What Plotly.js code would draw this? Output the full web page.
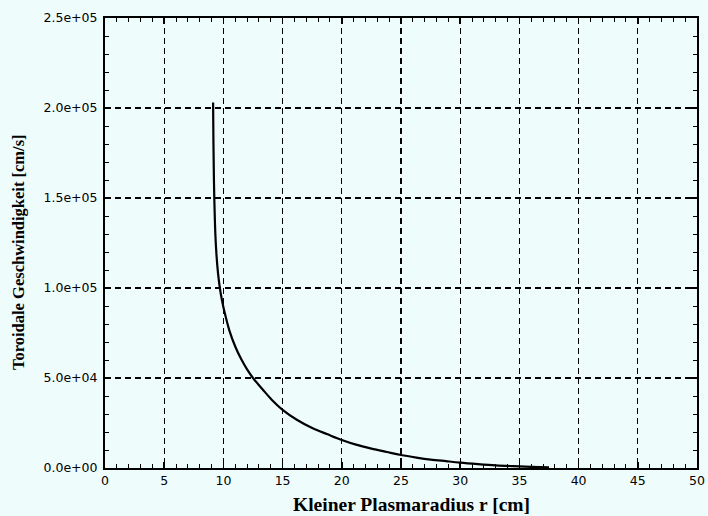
<!DOCTYPE html>
<html>
<head>
<meta charset="utf-8">
<script src="https://cdn.plot.ly/plotly-3.0.1.min.js"></script>
<style>html,body{margin:0;padding:0;background:#effcfc;}</style>
</head>
<body>
<div id="chart" style="width:708px;height:516px;"></div>
<script>
const radius = [9.13, 9.16, 9.2, 9.25, 9.32, 9.42, 9.55, 9.7, 9.9, 10.1, 10.5, 11.0, 11.5, 12.0, 12.5, 13.3, 14.1, 15.0, 16.2, 17.5, 18.8, 20.0, 21.2, 22.5, 23.8, 25.0, 26.3, 27.5, 28.8, 30.0, 31.5, 33.0, 34.5, 36.0, 37.5];
const velocity = [203000, 180000, 160000, 145000, 130000, 118000, 108000, 100000, 92500, 86500, 76500, 67500, 60500, 54800, 50000, 43800, 37800, 32300, 26800, 22200, 18700, 15600, 13000, 10800, 8900, 7200, 5800, 4700, 3800, 3000, 2200, 1500, 1000, 600, 300];
const xTicks = [0, 5, 10, 15, 20, 25, 30, 35, 40, 45, 50];
const yTickVals = [0, 50000, 100000, 150000, 200000, 250000];
const yTickText = ["0.0e+00", "5.0e+04", "1.0e+05", "1.5e+05", "2.0e+05", "2.5e+05"];
const xTitle = 'Kleiner Plasmaradius r [cm]';
const yTitle = 'Toroidale Geschwindigkeit [cm/s]';

const bg = '#effcfc';
const tickFont = {family: 'DejaVu Sans, sans-serif', size: 12.5, color: '#000'};
const titleFontFamily = 'Liberation Serif, Times New Roman, serif';
const trace = {
  x: radius, y: velocity, type: 'scatter', mode: 'lines',
  line: {color: '#000', width: 2.2, shape: 'spline', smoothing: 1},
  hoverinfo: 'skip', showlegend: false
};
const axisCommon = {
  ticks: 'inside', ticklen: 6, tickwidth: 1.5, tickcolor: '#000',
  showline: true, linecolor: '#000', linewidth: 2, mirror: 'ticks',
  showgrid: true, gridcolor: '#000', gridwidth: 1.3, griddash: '6px,4px',
  zeroline: false, tickfont: tickFont
};
const layout = {
  width: 708, height: 516,
  paper_bgcolor: bg, plot_bgcolor: bg,
  margin: {l: 105, r: 11, t: 18, b: 48},
  font: {family: 'DejaVu Sans, sans-serif', size: 12, color: '#000'},
  xaxis: Object.assign({}, axisCommon, {
    range: [0, 50], tickvals: xTicks, ticktext: xTicks.map(String),
    minor: {dtick: 1, tick0: 0, ticks: 'inside', ticklen: 4, tickwidth: 1, tickcolor: '#000', showgrid: false}
  }),
  yaxis: Object.assign({}, axisCommon, {
    range: [0, 250000], tickvals: yTickVals, ticktext: yTickText, ticklabelstandoff: 3,
    minor: {dtick: 10000, tick0: 0, ticks: 'inside', ticklen: 4, tickwidth: 1, tickcolor: '#000', showgrid: false}
  }),
  annotations: [
    {text: xTitle, xref: 'paper', yref: 'paper', x: 0.517, y: 0, yshift: -36, xanchor: 'center', yanchor: 'middle', showarrow: false,
     font: {family: titleFontFamily, size: 19.5, weight: 'bold', color: '#000'}},
    {text: yTitle, xref: 'paper', yref: 'paper', x: 0, xshift: -87, y: 0.48, xanchor: 'center', yanchor: 'middle', textangle: -90, showarrow: false,
     font: {family: titleFontFamily, size: 16.5, weight: 'bold', color: '#000'}}
  ]
};
Plotly.newPlot('chart', [trace], layout, {staticPlot: true, displayModeBar: false});
</script>
</body>
</html>
